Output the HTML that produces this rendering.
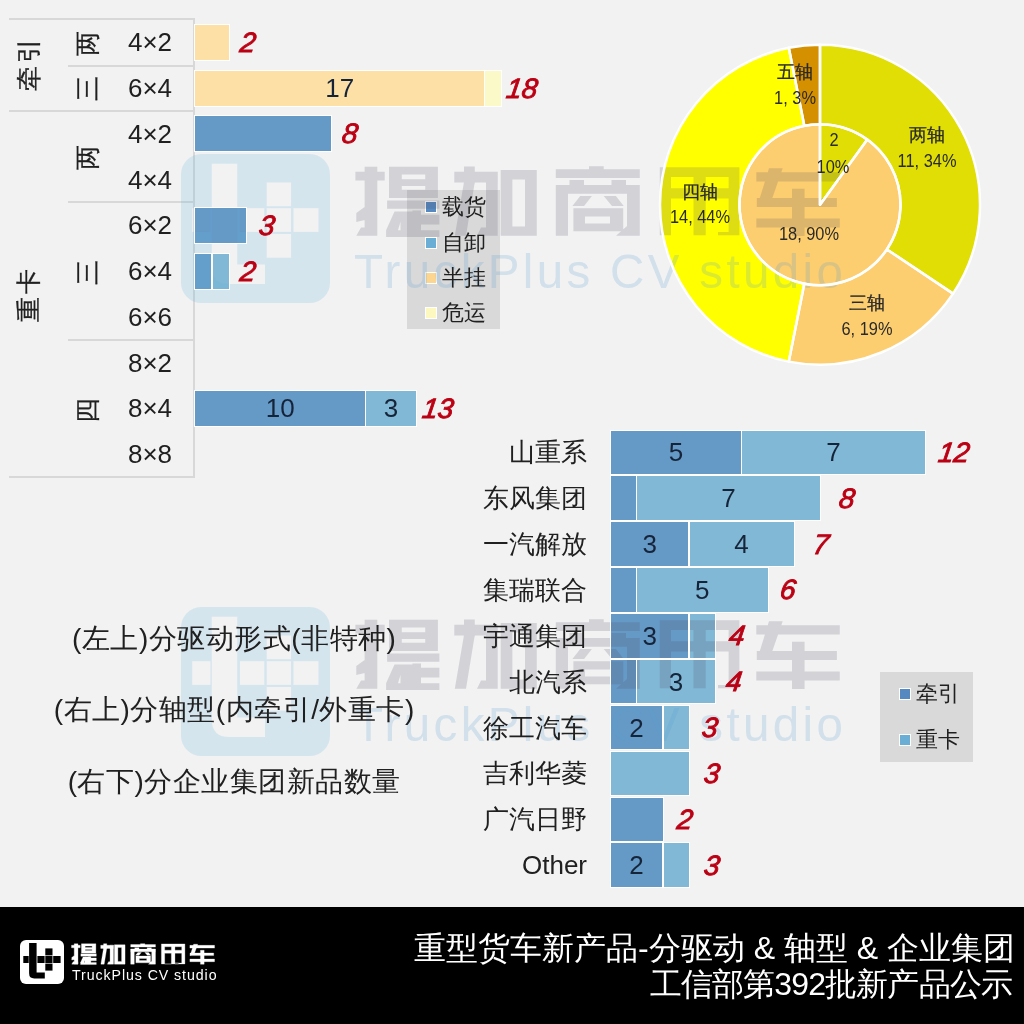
<!DOCTYPE html>
<html><head><meta charset="utf-8">
<style>
html,body{margin:0;padding:0;}
body{will-change:transform;width:1024px;height:1024px;overflow:hidden;position:relative;background:#f2f2f2;font-family:"Liberation Sans",sans-serif;color:#202020;}
.a{position:absolute;white-space:nowrap;}
.f{position:absolute;z-index:1;}
.o{position:absolute;z-index:3;border:1px solid #fff;box-sizing:border-box;}
.c{position:absolute;z-index:3;white-space:nowrap;transform:translate(-50%,-50%);line-height:1;}
.r{position:absolute;z-index:3;white-space:nowrap;transform:translate(-100%,-50%);line-height:1;}
.l{position:absolute;z-index:3;white-space:nowrap;transform:translate(0,-50%);line-height:1;}
.rot{position:absolute;z-index:3;white-space:nowrap;transform:translate(-50%,-50%) rotate(-90deg);line-height:1;}
.hl{position:absolute;z-index:1;height:2px;background:#d8d8d8;}
.red{color:#bb0014;-webkit-text-stroke:0.9px #bb0014;font-style:italic;font-size:28px;position:absolute;z-index:3;white-space:nowrap;line-height:1;transform:translate(-50%,-50%) skewX(-8deg);}
.wm{position:absolute;z-index:2;}
</style></head><body>

<div class="hl" style="left:9px;top:18px;width:185px"></div>
<div class="hl" style="left:68px;top:64.5px;width:126px"></div>
<div class="hl" style="left:9px;top:110px;width:185px"></div>
<div class="hl" style="left:68px;top:201px;width:126px"></div>
<div class="hl" style="left:68px;top:339.4px;width:126px"></div>
<div class="hl" style="left:9px;top:476px;width:185px"></div>
<div class="f" style="left:193px;top:18px;width:2px;height:460px;background:#d8d8d8"></div>
<div class="rot" style="left:28px;top:63.5px;font-size:25px;-webkit-text-stroke:0.3px #202020;letter-spacing:3px;text-indent:3px">牵引</div>
<div class="rot" style="left:87px;top:43px;font-size:25px;-webkit-text-stroke:0.3px #202020">两</div>
<div class="rot" style="left:87px;top:88px;font-size:25px;-webkit-text-stroke:0.3px #202020">三</div>
<div class="rot" style="left:87px;top:157px;font-size:25px;-webkit-text-stroke:0.3px #202020">两</div>
<div class="rot" style="left:87px;top:272px;font-size:25px;-webkit-text-stroke:0.3px #202020">三</div>
<div class="rot" style="left:87px;top:410px;font-size:25px;-webkit-text-stroke:0.3px #202020">四</div>
<div class="rot" style="left:28px;top:295.2px;font-size:25px;-webkit-text-stroke:0.3px #202020;letter-spacing:3px;text-indent:3px">重卡</div>
<div class="c" style="left:150px;top:42.2px;font-size:26px">4×2</div>
<div class="c" style="left:150px;top:88.0px;font-size:26px">6×4</div>
<div class="c" style="left:150px;top:133.7px;font-size:26px">4×2</div>
<div class="c" style="left:150px;top:179.5px;font-size:26px">4×4</div>
<div class="c" style="left:150px;top:225.2px;font-size:26px">6×2</div>
<div class="c" style="left:150px;top:271.0px;font-size:26px">6×4</div>
<div class="c" style="left:150px;top:316.8px;font-size:26px">6×6</div>
<div class="c" style="left:150px;top:362.5px;font-size:26px">8×2</div>
<div class="c" style="left:150px;top:408.3px;font-size:26px">8×4</div>
<div class="c" style="left:150px;top:454.0px;font-size:26px">8×8</div>
<div class="f" style="left:195.0px;top:24.5px;width:34.1px;height:35.5px;background:#fde0a6"></div>
<div class="o" style="left:194.2px;top:23.7px;width:35.6px;height:37.0px;border-width:1.5px"></div>
<div class="red" style="left:247.6px;top:42.7px">2</div>
<div class="f" style="left:195.0px;top:70.2px;width:289.7px;height:35.5px;background:#fde0a6"></div>
<div class="o" style="left:194.2px;top:69.5px;width:291.2px;height:37.0px;border-width:1.5px"></div>
<div class="c" style="left:339.8px;top:88.0px;font-size:26px;color:#16243a">17</div>
<div class="f" style="left:484.7px;top:70.2px;width:17.0px;height:35.5px;background:#fcf9c8"></div>
<div class="o" style="left:483.9px;top:69.5px;width:18.5px;height:37.0px;border-width:1.5px"></div>
<div class="red" style="left:522.2px;top:88.5px">18</div>
<div class="f" style="left:195.0px;top:116.0px;width:136.3px;height:35.5px;background:#6599c6"></div>
<div class="o" style="left:194.2px;top:115.2px;width:137.8px;height:37.0px;border-width:1.5px"></div>
<div class="red" style="left:350.2px;top:134.2px">8</div>
<div class="f" style="left:195.0px;top:207.5px;width:51.1px;height:35.5px;background:#6599c6"></div>
<div class="o" style="left:194.2px;top:206.7px;width:52.6px;height:37.0px;border-width:1.5px"></div>
<div class="red" style="left:267.2px;top:225.7px">3</div>
<div class="f" style="left:195.0px;top:253.2px;width:17.0px;height:35.5px;background:#6599c6"></div>
<div class="o" style="left:194.2px;top:252.5px;width:18.5px;height:37.0px;border-width:1.5px"></div>
<div class="f" style="left:212.0px;top:253.2px;width:17.0px;height:35.5px;background:#80b8d5"></div>
<div class="o" style="left:211.3px;top:252.5px;width:18.5px;height:37.0px;border-width:1.5px"></div>
<div class="red" style="left:247.8px;top:271.5px">2</div>
<div class="f" style="left:195.0px;top:390.5px;width:170.4px;height:35.5px;background:#6599c6"></div>
<div class="o" style="left:194.2px;top:389.8px;width:171.9px;height:37.0px;border-width:1.5px"></div>
<div class="c" style="left:280.2px;top:408.3px;font-size:26px;color:#16243a">10</div>
<div class="f" style="left:365.4px;top:390.5px;width:51.1px;height:35.5px;background:#80b8d5"></div>
<div class="o" style="left:364.6px;top:389.8px;width:52.6px;height:37.0px;border-width:1.5px"></div>
<div class="c" style="left:391.0px;top:408.3px;font-size:26px;color:#16243a">3</div>
<div class="red" style="left:438.1px;top:408.8px">13</div>
<div class="f" style="left:407px;top:190px;width:93px;height:139px;background:#d9d9d9"></div>
<div class="f" style="left:425px;top:201.3px;width:10px;height:10px;background:#5589c0;border:1px solid #fff"></div>
<div class="l" style="left:442px;top:207.3px;font-size:22px">载货</div>
<div class="f" style="left:425px;top:236.5px;width:10px;height:10px;background:#6aaed6;border:1px solid #fff"></div>
<div class="l" style="left:442px;top:242.5px;font-size:22px">自卸</div>
<div class="f" style="left:425px;top:271.7px;width:10px;height:10px;background:#fcd690;border:1px solid #fff"></div>
<div class="l" style="left:442px;top:277.7px;font-size:22px">半挂</div>
<div class="f" style="left:425px;top:306.9px;width:10px;height:10px;background:#fdf8c0;border:1px solid #fff"></div>
<div class="l" style="left:442px;top:312.9px;font-size:22px">危运</div>
<svg class="f" style="left:0;top:0" width="1024" height="907" viewBox="0 0 1024 907">
<path d="M820.00,44.70 A160,160 0 0 1 953.04,293.59 L886.93,249.42 A80.5,80.5 0 0 0 820.00,124.20 Z" fill="#e0de04"/>
<path d="M953.04,293.59 A160,160 0 0 1 788.79,361.63 L804.30,283.65 A80.5,80.5 0 0 0 886.93,249.42 Z" fill="#fdce6f"/>
<path d="M788.79,361.63 A160,160 0 0 1 788.79,47.77 L804.30,125.75 A80.5,80.5 0 0 0 804.30,283.65 Z" fill="#ffff00"/>
<path d="M788.79,47.77 A160,160 0 0 1 820.00,44.70 L820.00,124.20 A80.5,80.5 0 0 0 804.30,125.75 Z" fill="#d59000"/>
<path d="M820,204.7 L820.00,124.20 A80.5,80.5 0 0 1 867.32,139.57 Z" fill="#e0de04"/>
<path d="M820,204.7 L867.32,139.57 A80.5,80.5 0 1 1 820.00,124.20 Z" fill="#fdce6f"/>
</svg>
<svg class="a" style="left:0;top:0;z-index:3" width="1024" height="907" viewBox="0 0 1024 907">
<path d="M820.00,44.70 A160,160 0 0 1 953.04,293.59 L886.93,249.42 A80.5,80.5 0 0 0 820.00,124.20 Z" fill="none" stroke="#fff" stroke-width="2.5" stroke-linejoin="round"/>
<path d="M953.04,293.59 A160,160 0 0 1 788.79,361.63 L804.30,283.65 A80.5,80.5 0 0 0 886.93,249.42 Z" fill="none" stroke="#fff" stroke-width="2.5" stroke-linejoin="round"/>
<path d="M788.79,361.63 A160,160 0 0 1 788.79,47.77 L804.30,125.75 A80.5,80.5 0 0 0 804.30,283.65 Z" fill="none" stroke="#fff" stroke-width="2.5" stroke-linejoin="round"/>
<path d="M788.79,47.77 A160,160 0 0 1 820.00,44.70 L820.00,124.20 A80.5,80.5 0 0 0 804.30,125.75 Z" fill="none" stroke="#fff" stroke-width="2.5" stroke-linejoin="round"/>
<path d="M820,204.7 L820.00,124.20 A80.5,80.5 0 0 1 867.32,139.57 Z" fill="none" stroke="#fff" stroke-width="2.5" stroke-linejoin="round"/>
<path d="M820,204.7 L867.32,139.57 A80.5,80.5 0 1 1 820.00,124.20 Z" fill="none" stroke="#fff" stroke-width="2.5" stroke-linejoin="round"/>
</svg>
<div class="c" style="left:795px;top:72px;font-size:18px;color:#2a2a2a;-webkit-text-stroke:0.25px #2a2a2a">五轴</div>
<div class="c" style="left:795px;top:98px;font-size:18px;color:#2a2a2a;transform:translate(-50%,-50%) scaleX(0.91)">1, 3%</div>
<div class="c" style="left:927px;top:134.6px;font-size:18px;color:#2a2a2a;-webkit-text-stroke:0.25px #2a2a2a">两轴</div>
<div class="c" style="left:927px;top:161px;font-size:18px;color:#2a2a2a;transform:translate(-50%,-50%) scaleX(0.91)">11, 34%</div>
<div class="c" style="left:867px;top:303px;font-size:18px;color:#2a2a2a;-webkit-text-stroke:0.25px #2a2a2a">三轴</div>
<div class="c" style="left:867px;top:329px;font-size:18px;color:#2a2a2a;transform:translate(-50%,-50%) scaleX(0.91)">6, 19%</div>
<div class="c" style="left:700px;top:192px;font-size:18px;color:#2a2a2a;-webkit-text-stroke:0.25px #2a2a2a">四轴</div>
<div class="c" style="left:700px;top:217px;font-size:18px;color:#2a2a2a;transform:translate(-50%,-50%) scaleX(0.91)">14, 44%</div>
<div class="c" style="left:833.5px;top:140px;font-size:18px;color:#2a2a2a;transform:translate(-50%,-50%) scaleX(0.91)">2</div>
<div class="c" style="left:833.4px;top:166.8px;font-size:18px;color:#2a2a2a;transform:translate(-50%,-50%) scaleX(0.91)">10%</div>
<div class="c" style="left:809px;top:233.8px;font-size:18px;color:#2a2a2a;transform:translate(-50%,-50%) scaleX(0.91)">18, 90%</div>
<div class="r" style="left:587px;top:452.3px;font-size:26px">山重系</div>
<div class="f" style="left:610.3px;top:430.3px;width:131.2px;height:44.0px;background:#6599c6"></div>
<div class="o" style="left:609.5px;top:429.6px;width:132.8px;height:45.5px;border-width:1.5px"></div>
<div class="c" style="left:675.9px;top:452.3px;font-size:26px;color:#16243a">5</div>
<div class="f" style="left:741.5px;top:430.3px;width:183.8px;height:44.0px;background:#80b8d5"></div>
<div class="o" style="left:740.8px;top:429.6px;width:185.2px;height:45.5px;border-width:1.5px"></div>
<div class="c" style="left:833.4px;top:452.3px;font-size:26px;color:#16243a">7</div>
<div class="red" style="left:954.3px;top:452.8px">12</div>
<div class="r" style="left:587px;top:498.2px;font-size:26px">东风集团</div>
<div class="f" style="left:610.3px;top:476.2px;width:26.2px;height:44.0px;background:#6599c6"></div>
<div class="o" style="left:609.5px;top:475.4px;width:27.8px;height:45.5px;border-width:1.5px"></div>
<div class="f" style="left:636.5px;top:476.2px;width:183.8px;height:44.0px;background:#80b8d5"></div>
<div class="o" style="left:635.8px;top:475.4px;width:185.2px;height:45.5px;border-width:1.5px"></div>
<div class="c" style="left:728.4px;top:498.2px;font-size:26px;color:#16243a">7</div>
<div class="red" style="left:846.7px;top:498.7px">8</div>
<div class="r" style="left:587px;top:544.0px;font-size:26px">一汽解放</div>
<div class="f" style="left:610.3px;top:522.0px;width:78.8px;height:44.0px;background:#6599c6"></div>
<div class="o" style="left:609.5px;top:521.3px;width:80.2px;height:45.5px;border-width:1.5px"></div>
<div class="c" style="left:649.7px;top:544.0px;font-size:26px;color:#16243a">3</div>
<div class="f" style="left:689.0px;top:522.0px;width:105.0px;height:44.0px;background:#80b8d5"></div>
<div class="o" style="left:688.3px;top:521.3px;width:106.5px;height:45.5px;border-width:1.5px"></div>
<div class="c" style="left:741.5px;top:544.0px;font-size:26px;color:#16243a">4</div>
<div class="red" style="left:821.0px;top:544.5px">7</div>
<div class="r" style="left:587px;top:589.9px;font-size:26px">集瑞联合</div>
<div class="f" style="left:610.3px;top:567.9px;width:26.2px;height:44.0px;background:#6599c6"></div>
<div class="o" style="left:609.5px;top:567.2px;width:27.8px;height:45.5px;border-width:1.5px"></div>
<div class="f" style="left:636.5px;top:567.9px;width:131.2px;height:44.0px;background:#80b8d5"></div>
<div class="o" style="left:635.8px;top:567.2px;width:132.8px;height:45.5px;border-width:1.5px"></div>
<div class="c" style="left:702.2px;top:589.9px;font-size:26px;color:#16243a">5</div>
<div class="red" style="left:787.5px;top:590.4px">6</div>
<div class="r" style="left:587px;top:635.8px;font-size:26px">宇通集团</div>
<div class="f" style="left:610.3px;top:613.8px;width:78.8px;height:44.0px;background:#6599c6"></div>
<div class="o" style="left:609.5px;top:613.0px;width:80.2px;height:45.5px;border-width:1.5px"></div>
<div class="c" style="left:649.7px;top:635.8px;font-size:26px;color:#16243a">3</div>
<div class="f" style="left:689.0px;top:613.8px;width:26.2px;height:44.0px;background:#80b8d5"></div>
<div class="o" style="left:688.3px;top:613.0px;width:27.8px;height:45.5px;border-width:1.5px"></div>
<div class="red" style="left:737.2px;top:636.3px">4</div>
<div class="r" style="left:587px;top:681.6px;font-size:26px">北汽系</div>
<div class="f" style="left:610.3px;top:659.6px;width:26.2px;height:44.0px;background:#6599c6"></div>
<div class="o" style="left:609.5px;top:658.9px;width:27.8px;height:45.5px;border-width:1.5px"></div>
<div class="f" style="left:636.5px;top:659.6px;width:78.8px;height:44.0px;background:#80b8d5"></div>
<div class="o" style="left:635.8px;top:658.9px;width:80.2px;height:45.5px;border-width:1.5px"></div>
<div class="c" style="left:675.9px;top:681.6px;font-size:26px;color:#16243a">3</div>
<div class="red" style="left:734.3px;top:682.1px">4</div>
<div class="r" style="left:587px;top:727.5px;font-size:26px">徐工汽车</div>
<div class="f" style="left:610.3px;top:705.5px;width:52.5px;height:44.0px;background:#6599c6"></div>
<div class="o" style="left:609.5px;top:704.8px;width:54.0px;height:45.5px;border-width:1.5px"></div>
<div class="c" style="left:636.5px;top:727.5px;font-size:26px;color:#16243a">2</div>
<div class="f" style="left:662.8px;top:705.5px;width:26.2px;height:44.0px;background:#80b8d5"></div>
<div class="o" style="left:662.0px;top:704.8px;width:27.8px;height:45.5px;border-width:1.5px"></div>
<div class="red" style="left:710.0px;top:728.0px">3</div>
<div class="r" style="left:587px;top:773.4px;font-size:26px">吉利华菱</div>
<div class="f" style="left:610.3px;top:751.4px;width:78.8px;height:44.0px;background:#80b8d5"></div>
<div class="o" style="left:609.5px;top:750.6px;width:80.2px;height:45.5px;border-width:1.5px"></div>
<div class="red" style="left:711.7px;top:773.9px">3</div>
<div class="r" style="left:587px;top:819.3px;font-size:26px">广汽日野</div>
<div class="f" style="left:610.3px;top:797.3px;width:52.5px;height:44.0px;background:#6599c6"></div>
<div class="o" style="left:609.5px;top:796.5px;width:54.0px;height:45.5px;border-width:1.5px"></div>
<div class="red" style="left:684.6px;top:819.8px">2</div>
<div class="r" style="left:587px;top:865.1px;font-size:26px">Other</div>
<div class="f" style="left:610.3px;top:843.1px;width:52.5px;height:44.0px;background:#6599c6"></div>
<div class="o" style="left:609.5px;top:842.4px;width:54.0px;height:45.5px;border-width:1.5px"></div>
<div class="c" style="left:636.5px;top:865.1px;font-size:26px;color:#16243a">2</div>
<div class="f" style="left:662.8px;top:843.1px;width:26.2px;height:44.0px;background:#80b8d5"></div>
<div class="o" style="left:662.0px;top:842.4px;width:27.8px;height:45.5px;border-width:1.5px"></div>
<div class="red" style="left:711.7px;top:865.6px">3</div>
<div class="f" style="left:880px;top:672px;width:93px;height:90px;background:#d9d9d9"></div>
<div class="f" style="left:899px;top:688.3px;width:10px;height:10px;background:#5589c0;border:1px solid #fff"></div>
<div class="l" style="left:916px;top:694.3px;font-size:22px">牵引</div>
<div class="f" style="left:899px;top:734.0px;width:10px;height:10px;background:#6aaed6;border:1px solid #fff"></div>
<div class="l" style="left:916px;top:740.0px;font-size:22px">重卡</div>
<div class="c" style="left:234px;top:639.3px;font-size:28px;letter-spacing:0.5px;text-indent:0.5px">(左上)分驱动形式(非特种)</div>
<div class="c" style="left:234px;top:709.6px;font-size:28px;letter-spacing:0.5px;text-indent:0.5px">(右上)分轴型(内牵引/外重卡)</div>
<div class="c" style="left:234px;top:781.9px;font-size:28px;letter-spacing:0.5px;text-indent:0.5px">(右下)分企业集团新品数量</div>
<svg class="wm" style="left:181px;top:154px" width="149.0" height="149.0" viewBox="0 0 44 44"><defs><mask id="m154"><rect width="44" height="44" fill="#fff"/><g fill="#000"><path d="M9.1,2.9 H16.6 V32.6 H24.8 V38.4 H14.3 Q9.1,38.4 9.1,33.2 Z"/><rect x="3.3" y="16" width="5.4" height="7"/><rect x="17.4" y="16" width="7.2" height="7"/><rect x="25.3" y="8.4" width="7.2" height="7"/><rect x="25.3" y="16" width="7.2" height="7"/><rect x="25.3" y="23.6" width="7.2" height="7"/><rect x="33.2" y="16" width="7.4" height="7"/></g></mask></defs><rect width="44" height="44" rx="6" fill="rgba(101,181,226,0.2)" mask="url(#m154)"/></svg>
<svg class="wm" style="left:0;top:0" width="1024" height="907" viewBox="0 0 1024 907"><path transform="translate(0,0)" d="M355.4,171.7H384.7V180.5H355.4ZM364.6,166.8H377.3V235.7H364.6ZM356.3,213L364.6,207L364.6,220L356.3,222ZM356.3,235.7L361,227.4L377.3,227.4L377.3,235.7ZM389,166.8H437.9V198.1H389ZM401.8,174.6V179.3H425.2V174.6ZM401.8,185.9V189.8H425.2V185.9ZM387.1,200.5H439.4V208.8H387.1ZM386.1,230.3L394.5,211.5L403.5,211.5L398,230.3ZM400.5,211.5H412.5V230.3H400.5ZM412.5,210.5H421V230.3H412.5ZM421,214.7H439.4V224.5H421ZM386.1,230.3H439.4V237.1H386.1ZM464,166.5H474.8V183.4H464ZM454.3,171.7H497.8V182.4H454.3ZM464,182L474.8,182L466,235.7L454.8,235.7ZM486,171.7H497.7V235.7H486ZM477,235.7L481,227.5L486,227.5L486,235.7ZM500.7,170H536.8V235.7H500.7ZM512.4,179.5V226.5H525V179.5ZM589,166.3H603.7V170H589ZM555.8,169.3H639.8V178H555.8ZM569.5,180H584V186H569.5ZM611.5,180H626V186H611.5ZM555.8,184.9H639.8V193.7H555.8ZM555.8,184.9H568V235.7H555.8ZM627,184.9H639.8V235.7H627ZM616,235.7L627,226L627,235.7ZM572.4,205.9L580.2,196.1L591.9,196.1L584.1,205.9ZM623.7,205.9L615.9,196.1L603.7,196.1L612,205.9ZM573.4,208.3H623.2V231.3H573.4ZM585,216.6V223.5H610V216.6ZM659.8,167.3H739.4V235.2H659.8ZM671,177V188.3H693.5V177ZM705.7,177V188.3H728.6V177ZM671,198.6V235.2H693.5V198.6ZM705.7,198.6V232H728.6V198.6ZM705.7,232V235.2H718V232ZM756.3,172.2H839.8V181.5H756.3ZM769,168.3L782.7,168.3L772,199L757,207ZM756.8,198H836.9V206.9H756.8ZM792,188.8H804.6V236.1H792ZM756.3,218.6H839.8V227.4H756.3Z" fill="rgb(80,75,100)" fill-opacity="0.19"/></svg>
<div class="wm" style="left:354px;top:247.5px;font-size:47.5px;color:rgba(90,160,210,0.22);line-height:1;letter-spacing:3.35px;white-space:nowrap">TruckPlus CV studio</div>
<svg class="wm" style="left:181px;top:607px" width="149.0" height="149.0" viewBox="0 0 44 44"><defs><mask id="m607"><rect width="44" height="44" fill="#fff"/><g fill="#000"><path d="M9.1,2.9 H16.6 V32.6 H24.8 V38.4 H14.3 Q9.1,38.4 9.1,33.2 Z"/><rect x="3.3" y="16" width="5.4" height="7"/><rect x="17.4" y="16" width="7.2" height="7"/><rect x="25.3" y="8.4" width="7.2" height="7"/><rect x="25.3" y="16" width="7.2" height="7"/><rect x="25.3" y="23.6" width="7.2" height="7"/><rect x="33.2" y="16" width="7.4" height="7"/></g></mask></defs><rect width="44" height="44" rx="6" fill="rgba(101,181,226,0.2)" mask="url(#m607)"/></svg>
<svg class="wm" style="left:0;top:0" width="1024" height="907" viewBox="0 0 1024 907"><path transform="translate(0,453)" d="M355.4,171.7H384.7V180.5H355.4ZM364.6,166.8H377.3V235.7H364.6ZM356.3,213L364.6,207L364.6,220L356.3,222ZM356.3,235.7L361,227.4L377.3,227.4L377.3,235.7ZM389,166.8H437.9V198.1H389ZM401.8,174.6V179.3H425.2V174.6ZM401.8,185.9V189.8H425.2V185.9ZM387.1,200.5H439.4V208.8H387.1ZM386.1,230.3L394.5,211.5L403.5,211.5L398,230.3ZM400.5,211.5H412.5V230.3H400.5ZM412.5,210.5H421V230.3H412.5ZM421,214.7H439.4V224.5H421ZM386.1,230.3H439.4V237.1H386.1ZM464,166.5H474.8V183.4H464ZM454.3,171.7H497.8V182.4H454.3ZM464,182L474.8,182L466,235.7L454.8,235.7ZM486,171.7H497.7V235.7H486ZM477,235.7L481,227.5L486,227.5L486,235.7ZM500.7,170H536.8V235.7H500.7ZM512.4,179.5V226.5H525V179.5ZM589,166.3H603.7V170H589ZM555.8,169.3H639.8V178H555.8ZM569.5,180H584V186H569.5ZM611.5,180H626V186H611.5ZM555.8,184.9H639.8V193.7H555.8ZM555.8,184.9H568V235.7H555.8ZM627,184.9H639.8V235.7H627ZM616,235.7L627,226L627,235.7ZM572.4,205.9L580.2,196.1L591.9,196.1L584.1,205.9ZM623.7,205.9L615.9,196.1L603.7,196.1L612,205.9ZM573.4,208.3H623.2V231.3H573.4ZM585,216.6V223.5H610V216.6ZM659.8,167.3H739.4V235.2H659.8ZM671,177V188.3H693.5V177ZM705.7,177V188.3H728.6V177ZM671,198.6V235.2H693.5V198.6ZM705.7,198.6V232H728.6V198.6ZM705.7,232V235.2H718V232ZM756.3,172.2H839.8V181.5H756.3ZM769,168.3L782.7,168.3L772,199L757,207ZM756.8,198H836.9V206.9H756.8ZM792,188.8H804.6V236.1H792ZM756.3,218.6H839.8V227.4H756.3Z" fill="rgb(80,75,100)" fill-opacity="0.19"/></svg>
<div class="wm" style="left:354px;top:700.5px;font-size:47.5px;color:rgba(90,160,210,0.22);line-height:1;letter-spacing:3.35px;white-space:nowrap">TruckPlus CV studio</div>
<div class="a" style="z-index:5;left:0;top:907px;width:1024px;height:117px;background:#000">
<svg class="a" style="left:20px;top:33px" width="44" height="44" viewBox="0 0 44 44"><rect x="0" y="0" width="44" height="44" rx="6" fill="#fff"/><g fill="#000"><path d="M9.1,2.9 H16.6 V32.6 H24.8 V38.4 H14.3 Q9.1,38.4 9.1,33.2 Z"/><rect x="3.3" y="16" width="5.4" height="7"/><rect x="17.4" y="16" width="7.2" height="7"/><rect x="25.3" y="8.4" width="7.2" height="7"/><rect x="25.3" y="16" width="7.2" height="7"/><rect x="25.3" y="23.6" width="7.2" height="7"/><rect x="33.2" y="16" width="7.4" height="7"/></g></svg>
<svg class="a" style="left:0;top:0" width="1024" height="117" viewBox="0 0 1024 117"><path transform="translate(-33.450,-12.477) scale(0.29530)" d="M355.4,171.7H384.7V180.5H355.4ZM364.6,166.8H377.3V235.7H364.6ZM356.3,213L364.6,207L364.6,220L356.3,222ZM356.3,235.7L361,227.4L377.3,227.4L377.3,235.7ZM389,166.8H437.9V198.1H389ZM401.8,174.6V179.3H425.2V174.6ZM401.8,185.9V189.8H425.2V185.9ZM387.1,200.5H439.4V208.8H387.1ZM386.1,230.3L394.5,211.5L403.5,211.5L398,230.3ZM400.5,211.5H412.5V230.3H400.5ZM412.5,210.5H421V230.3H412.5ZM421,214.7H439.4V224.5H421ZM386.1,230.3H439.4V237.1H386.1ZM464,166.5H474.8V183.4H464ZM454.3,171.7H497.8V182.4H454.3ZM464,182L474.8,182L466,235.7L454.8,235.7ZM486,171.7H497.7V235.7H486ZM477,235.7L481,227.5L486,227.5L486,235.7ZM500.7,170H536.8V235.7H500.7ZM512.4,179.5V226.5H525V179.5ZM589,166.3H603.7V170H589ZM555.8,169.3H639.8V178H555.8ZM569.5,180H584V186H569.5ZM611.5,180H626V186H611.5ZM555.8,184.9H639.8V193.7H555.8ZM555.8,184.9H568V235.7H555.8ZM627,184.9H639.8V235.7H627ZM616,235.7L627,226L627,235.7ZM572.4,205.9L580.2,196.1L591.9,196.1L584.1,205.9ZM623.7,205.9L615.9,196.1L603.7,196.1L612,205.9ZM573.4,208.3H623.2V231.3H573.4ZM585,216.6V223.5H610V216.6ZM659.8,167.3H739.4V235.2H659.8ZM671,177V188.3H693.5V177ZM705.7,177V188.3H728.6V177ZM671,198.6V235.2H693.5V198.6ZM705.7,198.6V232H728.6V198.6ZM705.7,232V235.2H718V232ZM756.3,172.2H839.8V181.5H756.3ZM769,168.3L782.7,168.3L772,199L757,207ZM756.8,198H836.9V206.9H756.8ZM792,188.8H804.6V236.1H792ZM756.3,218.6H839.8V227.4H756.3Z" fill="#fff" stroke="#fff" stroke-width="1"/></svg>
<div class="a" style="left:72px;top:60.6px;font-size:14.2px;color:#fff;line-height:1;letter-spacing:0.92px">TruckPlus CV studio</div>
<div class="a" style="right:9px;top:23px;font-size:32px;color:#fff;line-height:36px;text-align:right">重型货车新产品-分驱动 &amp; 轴型 &amp; 企业集团<br><span style="letter-spacing:-0.85px;margin-right:3px">工信部第392批新产品公示</span></div>
</div>
</body></html>
